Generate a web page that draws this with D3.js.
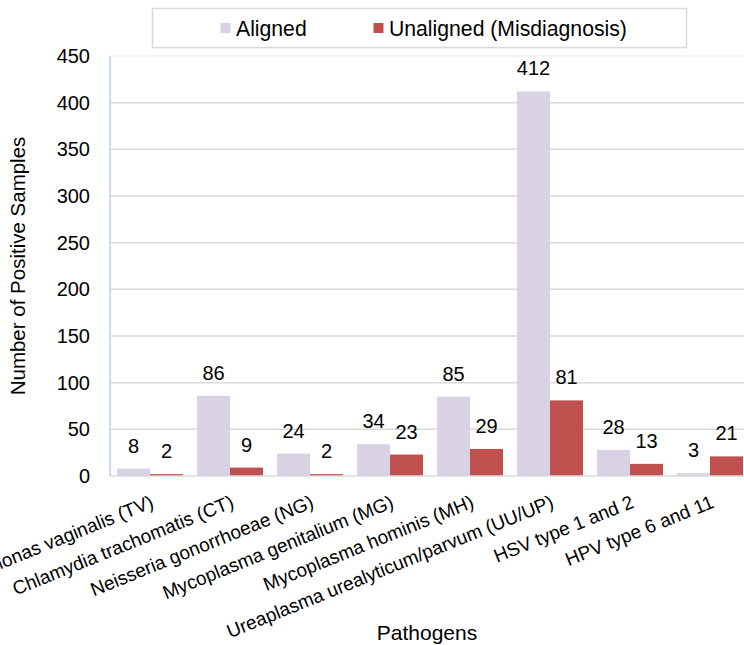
<!DOCTYPE html>
<html>
<head>
<meta charset="utf-8">
<script src="https://cdn.jsdelivr.net/npm/d3@7/dist/d3.min.js"></script>
<style>
  html, body { margin: 0; padding: 0; background: #fff; }
  svg { display: block; font-family: "Liberation Sans", Arial, sans-serif; }
</style>
</head>
<body>
<svg id="chart" width="744" height="645"></svg>
<script>
const categories = [
  "Trichomonas vaginalis (TV)",
  "Chlamydia trachomatis (CT)",
  "Neisseria gonorrhoeae (NG)",
  "Mycoplasma genitalium (MG)",
  "Mycoplasma hominis (MH)",
  "Ureaplasma urealyticum/parvum (UU/UP)",
  "HSV type 1 and 2",
  "HPV type 6 and 11"
];
const seriesNames = ["Aligned", "Unaligned (Misdiagnosis)"];
const aligned = [8, 86, 24, 34, 85, 412, 28, 3];
const unaligned = [2, 9, 2, 23, 29, 81, 13, 21];
const yTicks = [0, 50, 100, 150, 200, 250, 300, 350, 400, 450];
const colors = ["#d9d2e5", "#c0504d"];

const svg = d3.select("#chart");
const plotLeft = 110, plotRight = 750, plotTop = 56, plotBottom = 476;

const x0 = d3.scaleBand().domain(categories).range([plotLeft, plotRight])
  .paddingInner(0.175).paddingOuter(0.0875);
const x1 = d3.scaleBand().domain(seriesNames).range([0, x0.bandwidth()]);
const y = d3.scaleLinear().domain([0, 450]).range([plotBottom, plotTop]);

// gridlines
svg.append("g").selectAll("line").data(yTicks.filter(d => d > 0)).join("line")
  .attr("x1", plotLeft).attr("x2", 744)
  .attr("y1", d => y(d)).attr("y2", d => y(d))
  .attr("stroke", d => d === 450 ? "#eef2f7" : "#d9d9d9")
  .attr("stroke-width", 1.5);

// y axis labels
const yAxis = d3.axisLeft(y).tickValues(yTicks).tickSize(0).tickPadding(20);
const gy = svg.append("g").attr("transform", `translate(${plotLeft},0)`).call(yAxis);
gy.select(".domain").remove();
gy.selectAll("text").attr("font-size", 20).attr("fill", "#000")
  .attr("font-family", "Liberation Sans, Arial, sans-serif");

// bars
const rows = categories.map((c, i) => ({ c, vals: [aligned[i], unaligned[i]] }));
const groups = svg.append("g").selectAll("g").data(rows).join("g")
  .attr("transform", d => `translate(${x0(d.c)},0)`);
groups.selectAll("rect").data(d => d.vals.map((v, j) => ({ v, s: seriesNames[j], j }))).join("rect")
  .attr("x", d => x1(d.s))
  .attr("width", x1.bandwidth())
  .attr("y", d => y(d.v))
  .attr("height", d => y(0) - y(d.v))
  .attr("fill", d => colors[d.j]);
groups.selectAll("text").data(d => d.vals.map((v, j) => ({ v, s: seriesNames[j], j }))).join("text")
  .attr("x", d => x1(d.s) + x1.bandwidth() / 2)
  .attr("y", d => y(d.v) - 16)
  .attr("text-anchor", "middle")
  .attr("font-size", 20)
  .attr("fill", "#000")
  .text(d => d.v);

// axis lines
svg.append("line").attr("x1", plotLeft).attr("x2", 744).attr("y1", plotBottom).attr("y2", plotBottom)
  .attr("stroke", "#d9d9d9").attr("stroke-width", 1.5);
svg.append("line").attr("x1", plotLeft).attr("x2", plotLeft).attr("y1", plotTop).attr("y2", plotBottom)
  .attr("stroke", "#bcd0ea").attr("stroke-width", 1.5);

// x category labels
const xAxis = d3.axisBottom(x0).tickSize(0).tickPadding(0);
const gx = svg.append("g").attr("transform", `translate(0,${plotBottom})`).call(xAxis);
gx.select(".domain").remove();
gx.selectAll("text")
  .attr("font-size", 19).attr("fill", "#000")
  .attr("font-family", "Liberation Sans, Arial, sans-serif")
  .attr("text-anchor", "end")
  .attr("dy", 0)
  .attr("y", 0)
  .attr("transform", "translate(5,31) rotate(-22)");

// axis titles
svg.append("text").attr("transform", "translate(25,266) rotate(-90)")
  .attr("text-anchor", "middle").attr("font-size", 20.5).attr("fill", "#000")
  .text("Number of Positive Samples");
svg.append("text").attr("x", 427).attr("y", 640)
  .attr("text-anchor", "middle").attr("font-size", 21).attr("fill", "#000")
  .text("Pathogens");

// legend
svg.append("rect").attr("x", 152.5).attr("y", 8.5).attr("width", 534).attr("height", 39)
  .attr("fill", "#fff").attr("stroke", "#d9d9d9").attr("stroke-width", 1.5);
const legendX = [220.5, 373.5];
const lg = svg.append("g").selectAll("g").data(seriesNames).join("g")
  .attr("transform", (d, i) => `translate(${legendX[i]},0)`);
lg.append("rect").attr("x", 0).attr("y", 23).attr("width", 10).attr("height", 10)
  .attr("fill", (d, i) => colors[i]);
lg.append("text").attr("x", 15.5).attr("y", 36).attr("font-size", 21.2).attr("fill", "#000")
  .text(d => d);
</script>
</body>
</html>
